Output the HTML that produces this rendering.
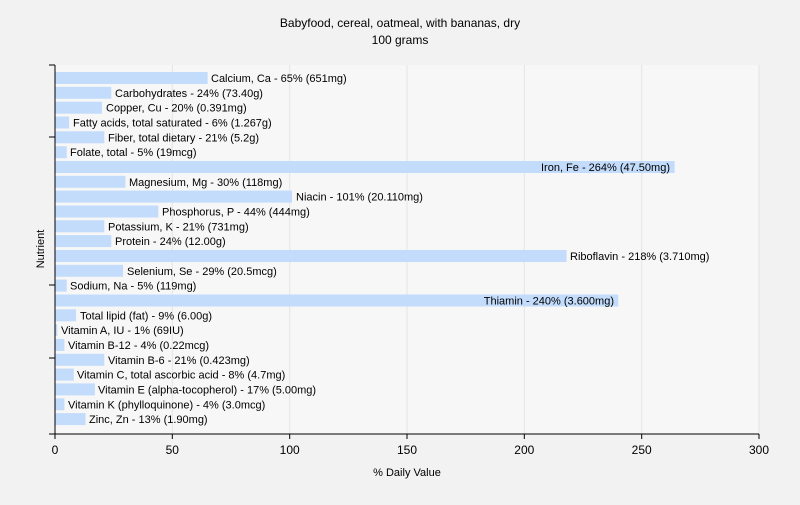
<!DOCTYPE html><html><head><style>body{margin:0;background:#f2f2f2}</style></head><body>
<svg width="800" height="500" xmlns="http://www.w3.org/2000/svg" font-family="Liberation Sans, sans-serif" font-size="11">
<rect width="800" height="500" fill="#f2f2f2"/>
<rect x="55" y="65" width="704" height="369" fill="#f7f7f7"/>
<g stroke="#e4e4e4"><line x1="172.3" y1="65" x2="172.3" y2="434"/><line x1="289.7" y1="65" x2="289.7" y2="434"/><line x1="407" y1="65" x2="407" y2="434"/><line x1="524.3" y1="65" x2="524.3" y2="434"/><line x1="641.7" y1="65" x2="641.7" y2="434"/><line x1="759" y1="65" x2="759" y2="434"/></g>
<text x="400" y="27" text-anchor="middle" font-size="12">Babyfood, cereal, oatmeal, with bananas, dry</text>
<text x="400" y="44" text-anchor="middle" font-size="12">100 grams</text>
<g fill="#c3dcfb">
<rect x="55" y="72" width="152.6" height="12"/>
<rect x="55" y="86.8" width="56.3" height="12"/>
<rect x="55" y="101.7" width="46.9" height="12"/>
<rect x="55" y="116.5" width="14.1" height="12"/>
<rect x="55" y="131.3" width="49.3" height="12"/>
<rect x="55" y="146.2" width="11.7" height="12"/>
<rect x="55" y="161" width="619.6" height="12"/>
<rect x="55" y="175.8" width="70.4" height="12"/>
<rect x="55" y="190.6" width="237" height="12"/>
<rect x="55" y="205.5" width="103.3" height="12"/>
<rect x="55" y="220.3" width="49.3" height="12"/>
<rect x="55" y="235.1" width="56.3" height="12"/>
<rect x="55" y="250" width="511.6" height="12"/>
<rect x="55" y="264.8" width="68.1" height="12"/>
<rect x="55" y="279.6" width="11.7" height="12"/>
<rect x="55" y="294.5" width="563.3" height="12"/>
<rect x="55" y="309.3" width="21.1" height="12"/>
<rect x="55" y="324.1" width="2.3" height="12"/>
<rect x="55" y="338.9" width="9.4" height="12"/>
<rect x="55" y="353.8" width="49.3" height="12"/>
<rect x="55" y="368.6" width="18.8" height="12"/>
<rect x="55" y="383.4" width="39.9" height="12"/>
<rect x="55" y="398.3" width="9.4" height="12"/>
<rect x="55" y="413.1" width="30.5" height="12"/>
</g>
<g fill="#000">
<text x="211" y="82">Calcium, Ca - 65% (651mg)</text>
<text x="115" y="96.8">Carbohydrates - 24% (73.40g)</text>
<text x="106" y="111.7">Copper, Cu - 20% (0.391mg)</text>
<text x="73" y="126.5">Fatty acids, total saturated - 6% (1.267g)</text>
<text x="108" y="141.3">Fiber, total dietary - 21% (5.2g)</text>
<text x="70" y="156.2">Folate, total - 5% (19mcg)</text>
<text x="670" y="171" text-anchor="end">Iron, Fe - 264% (47.50mg)</text>
<text x="129" y="185.8">Magnesium, Mg - 30% (118mg)</text>
<text x="296" y="200.6">Niacin - 101% (20.110mg)</text>
<text x="162" y="215.5">Phosphorus, P - 44% (444mg)</text>
<text x="108" y="230.3">Potassium, K - 21% (731mg)</text>
<text x="115" y="245.1">Protein - 24% (12.00g)</text>
<text x="570" y="260">Riboflavin - 218% (3.710mg)</text>
<text x="127" y="274.8">Selenium, Se - 29% (20.5mcg)</text>
<text x="70" y="289.6">Sodium, Na - 5% (119mg)</text>
<text x="614" y="304.5" text-anchor="end">Thiamin - 240% (3.600mg)</text>
<text x="80" y="319.3">Total lipid (fat) - 9% (6.00g)</text>
<text x="61" y="334.1">Vitamin A, IU - 1% (69IU)</text>
<text x="68" y="348.9">Vitamin B-12 - 4% (0.22mcg)</text>
<text x="108" y="363.8">Vitamin B-6 - 21% (0.423mg)</text>
<text x="77" y="378.6">Vitamin C, total ascorbic acid - 8% (4.7mg)</text>
<text x="98" y="393.4">Vitamin E (alpha-tocopherol) - 17% (5.00mg)</text>
<text x="68" y="408.3">Vitamin K (phylloquinone) - 4% (3.0mcg)</text>
<text x="89" y="423.1">Zinc, Zn - 13% (1.90mg)</text>
</g>
<g stroke="#000"><line x1="55" y1="65" x2="55" y2="434"/><line x1="55" y1="434" x2="759" y2="434"/>
<line x1="49" y1="65" x2="55" y2="65"/><line x1="49" y1="137" x2="55" y2="137"/><line x1="49" y1="285" x2="55" y2="285"/><line x1="49" y1="358" x2="55" y2="358"/><line x1="49" y1="434" x2="55" y2="434"/>
<line x1="55" y1="434" x2="55" y2="439"/><line x1="172.3" y1="434" x2="172.3" y2="439"/><line x1="289.7" y1="434" x2="289.7" y2="439"/><line x1="407" y1="434" x2="407" y2="439"/><line x1="524.3" y1="434" x2="524.3" y2="439"/><line x1="641.7" y1="434" x2="641.7" y2="439"/><line x1="759" y1="434" x2="759" y2="439"/></g>
<g font-size="12" text-anchor="middle"><text x="55" y="454">0</text><text x="172.3" y="454">50</text><text x="289.7" y="454">100</text><text x="407" y="454">150</text><text x="524.3" y="454">200</text><text x="641.7" y="454">250</text><text x="759" y="454">300</text></g>
<text x="407" y="476" text-anchor="middle">% Daily Value</text>
<text transform="translate(44,249) rotate(-90)" text-anchor="middle">Nutrient</text>
</svg></body></html>
